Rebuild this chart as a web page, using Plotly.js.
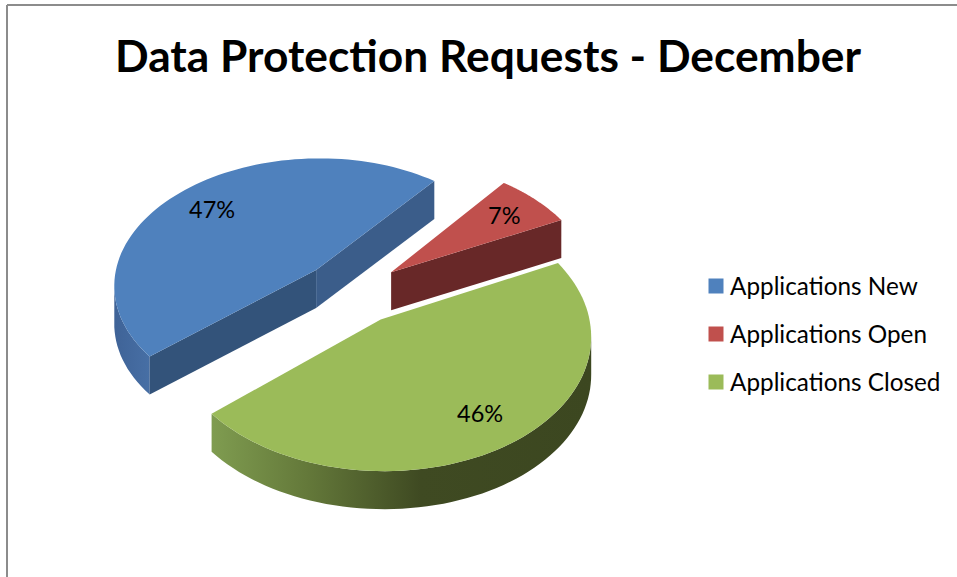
<!DOCTYPE html>
<html><head><meta charset="utf-8">
<script src="https://cdn.plot.ly/plotly-3.0.1.min.js"></script>
<style>html,body{margin:0;padding:0;background:#fff}</style></head>
<body><div id="chart" style="width:957px;height:577px"></div>
<script>
const categories = ["Applications New", "Applications Open", "Applications Closed"];
const values = [47, 7, 46];
const topColors = ["#4f81bd", "#c0504d", "#9bbb59"];
const rimColors = ["#3f6397", "#682828", "#3f4a22"];
const startWallColors = ["#33537a", "#682828", "#3f4a22"];
const stopWallColors = ["#3b5d8a", "#682828", "#3f4a22"];
const pull = [0.25, 0.25, 0.25];
const view = {cx: 352, cy: 292, R: 204, k: 0.63, p: 0.11, depth: 38, rotation: 229.5};
const total = values.reduce((a, b) => a + b, 0);

function pieTrace(colors, legend) {
  return {type: "pie", labels: categories, values: values, sort: false, direction: "clockwise",
    rotation: view.rotation, pull: pull, textinfo: "none", hoverinfo: "skip", showlegend: legend,
    domain: {x: [0.1, 0.7], y: [0.1, 0.8]}, marker: {colors: colors, line: {width: 0}}};
}
const traces = [pieTrace(rimColors, false), pieTrace(startWallColors, false), pieTrace(stopWallColors, false), pieTrace(topColors, true)];
const labelPos = [[212, 209], [504, 215], [480, 413]];
const layout = {
  width: 957, height: 577, margin: {l: 0, r: 0, t: 0, b: 0}, paper_bgcolor: "#fff",
  font: {family: "Lato, 'Open Sans', sans-serif", color: "#000"},
  title: {text: "<b>Data Protection Requests - December</b>", font: {size: 44.3, family: "Lato, sans-serif", color: "#000"},
    x: 488 / 957, xanchor: "center", y: 1 - 56 / 577, yanchor: "middle"},
  legend: {x: 696 / 957, xanchor: "left", y: 1 - 270 / 577, yanchor: "top", font: {size: 24.3, color: "#000"}, traceorder: "normal"},
  shapes: [
    {type: "line", xref: "paper", yref: "paper", x0: 7 / 957, x1: 1, y0: 1 - 5 / 577, y1: 1 - 5 / 577, line: {color: "#8c8c8c", width: 2}},
    {type: "line", xref: "paper", yref: "paper", x0: 7 / 957, x1: 7 / 957, y0: 1 - 5 / 577, y1: 0, line: {color: "#8c8c8c", width: 2}}
  ],
  annotations: values.map((v, i) => ({text: Math.round(v / total * 100) + "%", xref: "paper", yref: "paper",
    x: labelPos[i][0] / 957, y: 1 - labelPos[i][1] / 577, xanchor: "center", yanchor: "middle",
    showarrow: false, font: {size: 23.5, color: "#000"}}))
};

function project(i, mid, theta, r, d) {
  const X = pull[i] * Math.sin(mid) + r * Math.sin(theta);
  const Y = pull[i] * Math.cos(mid) + r * Math.cos(theta);
  const s = 1 / (1 + view.p * Y);
  return [view.cx + view.R * X * s, view.cy - view.R * view.k * Y * s + d];
}
function toPath(pts) { return pts.length ? "M" + pts.map(p => p[0].toFixed(1) + "," + p[1].toFixed(1)).join("L") + "Z" : "M0,0Z"; }

const gd = document.getElementById("chart");
Plotly.newPlot(gd, traces, layout, {staticPlot: true, displayModeBar: false}).then(() => {
  const defs = gd.querySelector(".main-svg defs");
  function gradient(id, stops) {
    const g = document.createElementNS("http://www.w3.org/2000/svg", "linearGradient");
    g.setAttribute("id", id);
    stops.forEach(s => {
      const st = document.createElementNS("http://www.w3.org/2000/svg", "stop");
      st.setAttribute("offset", s[0]); st.setAttribute("stop-color", s[1]); g.appendChild(st);
    });
    defs.appendChild(g);
  }
  gradient("rimGreen", [[0, "#7f9c50"], [0.25, "#64793a"], [0.55, "#3f4a22"], [1, "#3c4720"]]);
  gradient("rimBlue", [[0, "#3f6397"], [1, "#476fa5"]]);

  // A radial wall shows only if the wedge's top lies above that edge on screen.
  function radialVisible(i, mid, theta) {
    const o = project(i, mid, 0, 0, 0), e = project(i, mid, theta, 1, 0), m = project(i, mid, mid, 1, 0);
    return m[1] < o[1] + (e[1] - o[1]) / (e[0] - o[0]) * (m[0] - o[0]);
  }
  const layers = gd.querySelectorAll(".pielayer .trace");
  const cd = gd.calcdata[3];
  layers.forEach((layer, li) => {
    layer.querySelectorAll("path.surface").forEach((path, i) => {
      const a = cd[i].startangle, b = cd[i].stopangle, mid = (a + b) / 2;
      const step = (b - a) / 80;
      const arc = d => { const o = []; for (let n = 0; n <= 80; n++) o.push(project(i, mid, a + step * n, 1, d)); return o; };
      const apex = d => project(i, mid, 0, 0, d);
      let pts = [];
      if (li === 3) pts = [apex(0)].concat(arc(0));
      else if (li === 0) {
        // Rim wall: only the run of the arc moving leftwards faces the viewer.
        const up = arc(0), lo = arc(view.depth);
        const keep = up.map((p, n) => n < 80 ? up[n + 1][0] < p[0] : up[n - 1][0] > p[0]);
        const ku = up.filter((p, n) => keep[n]), kl = lo.filter((p, n) => keep[n]);
        pts = ku.concat(kl.reverse());
      }
      else {
        const t = li === 1 ? a : b;
        if (radialVisible(i, mid, t)) pts = [apex(0), project(i, mid, t, 1, 0), project(i, mid, t, 1, view.depth), apex(view.depth)];
      }
      path.setAttribute("d", toPath(pts));
      if (li === 0 && i === 2) path.style.fill = "url(#rimGreen)";
      if (li === 0 && i === 0) path.style.fill = "url(#rimBlue)";
    });
  });

  const box = gd.querySelector(".legend .scrollbox");
  if (box) box.removeAttribute("clip-path");
  gd.querySelectorAll(".legend .traces").forEach((t, i) => {
    t.setAttribute("transform", "translate(0," + (16 + i * 48) + ")");
    const sw = t.querySelector(".legendpie path, .legendpoints path");
    if (sw) sw.setAttribute("d", "M7.5,7.5H-7.5V-7.5H7.5Z");
    const tx = t.querySelector("text.legendtext");
    if (tx) tx.setAttribute("x", 34);
  });
});
</script></body></html>
